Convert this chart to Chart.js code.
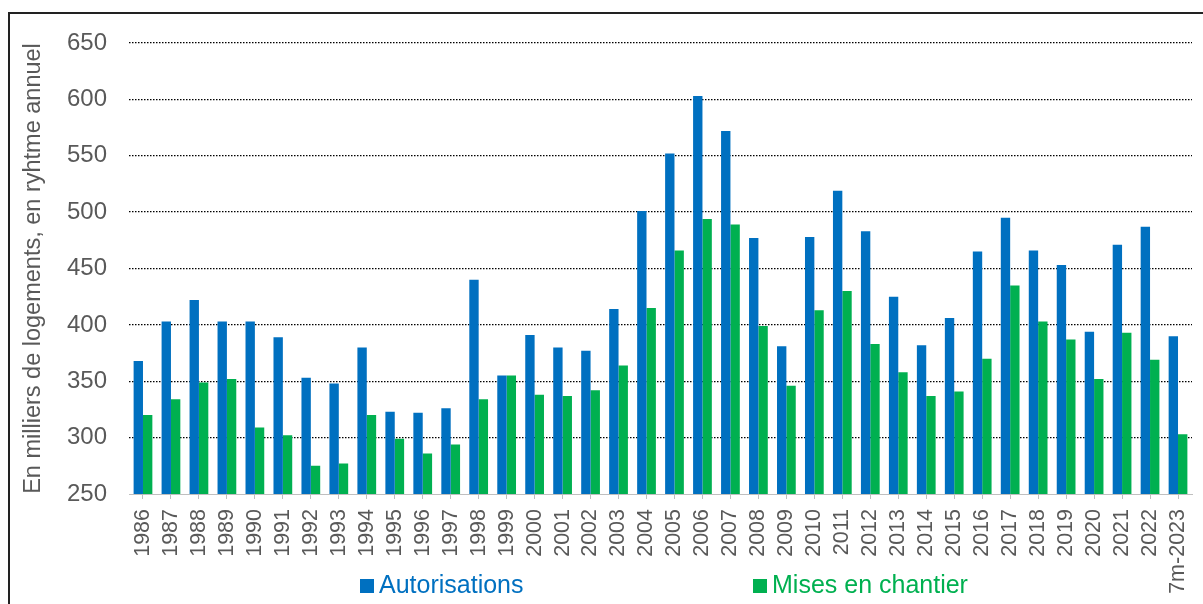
<!DOCTYPE html>
<html>
<head>
<meta charset="utf-8">
<script src="https://cdn.jsdelivr.net/npm/chart.js@4/dist/chart.umd.min.js"></script>
<style>
  body { margin: 0; background: #fff; }
  #wrap { width: 1203px; height: 604px; position: relative; }
</style>
</head>
<body>
<div id="wrap"><canvas id="chart1"></canvas></div>
<script>
// Logements autorisés / mis en chantier, en milliers, rythme annuel
const years = ['1986', '1987', '1988', '1989', '1990', '1991', '1992', '1993', '1994', '1995',
  '1996', '1997', '1998', '1999', '2000', '2001', '2002', '2003', '2004', '2005',
  '2006', '2007', '2008', '2009', '2010', '2011', '2012', '2013', '2014', '2015',
  '2016', '2017', '2018', '2019', '2020', '2021', '2022', '7m-2023'];
const autorisations = [368, 403, 422, 403, 403, 389, 353, 348, 380, 323,
  322, 326, 440, 355, 391, 380, 377, 414, 501, 552,
  603, 572, 477, 381, 478, 519, 483, 425, 382, 406,
  465, 495, 466, 453, 394, 471, 487, 390];
const misesEnChantier = [320, 334, 349, 352, 309, 302, 275, 277, 320, 299,
  286, 294, 334, 355, 338, 337, 342, 364, 415, 466,
  494, 489, 399, 346, 413, 430, 383, 358, 337, 341,
  370, 435, 403, 387, 352, 393, 369, 303];
const yTicks = [250, 300, 350, 400, 450, 500, 550, 600, 650];

const FONT = '"Liberation Sans", Arial, sans-serif';
const GREY = '#595959';

// white background + the frame round the chart
const framePlugin = {
  id: 'frame',
  beforeDraw(chart) {
    const c = chart.ctx;
    c.save();
    c.fillStyle = '#fff';
    c.fillRect(0, 0, chart.width, chart.height);
    c.strokeStyle = '#222';
    c.lineWidth = 2;
    c.strokeRect(9, 13, 1220, 640);
    c.restore();
  }
};

// legend below the axis, items far apart like the original
const legendPlugin = {
  id: 'bottomLegend',
  afterDraw(chart) {
    const c = chart.ctx;
    const xs = [360, 753];
    c.save();
    c.font = '25px ' + FONT;
    c.textBaseline = 'alphabetic';
    chart.data.datasets.forEach((ds, i) => {
      c.fillStyle = ds.backgroundColor;
      c.fillRect(xs[i], 579, 14, 14);
      c.fillText(ds.label, xs[i] + 19, 593);
    });
    c.restore();
  }
};

const ctx1 = document.getElementById('chart1').getContext('2d');
const chart1 = new Chart(ctx1, {
  type: 'bar',
  data: {
    labels: years,
    datasets: [{
      label: 'Autorisations',
      data: autorisations,
      backgroundColor: '#0070C0',
      borderWidth: 0
    }, {
      label: 'Mises en chantier',
      data: misesEnChantier,
      backgroundColor: '#00B050',
      borderWidth: 0
    }]
  },
  options: {
    responsive: true,
    maintainAspectRatio: false,
    animation: false,
    categoryPercentage: 0.67,
    barPercentage: 1.0,
    layout: { padding: { left: 15, right: 11, top: 43, bottom: 0 } },
    plugins: {
      legend: { display: false },
      tooltip: { enabled: false }
    },
    scales: {
      x: {
        grid: {
          offset: false,
          drawOnChartArea: false,
          drawTicks: true,
          tickLength: 5,
          color: '#BFBFBF'
        },
        border: { color: '#BFBFBF', width: 1 },
        ticks: {
          autoSkip: false,
          minRotation: 90,
          maxRotation: 90,
          padding: 10,
          color: GREY,
          font: { family: FONT, size: 21.5 }
        },
        afterFit(s) {
          s.height = 110;
          s.paddingLeft = 0;
          s.paddingRight = 0;
        }
      },
      y: {
        min: 250,
        max: 650,
        afterBuildTicks(s) { s.ticks = yTicks.map(v => ({ value: v })); },
        grid: {
          drawTicks: false,
          color: c => (c.tick && c.tick.value === 250) ? 'rgba(0,0,0,0)' : '#000',
          lineWidth: 1.3
        },
        border: { display: false, dash: [1.5, 1.5] },
        ticks: {
          padding: 22,
          color: GREY,
          font: { family: FONT, size: 24 }
        },
        title: {
          display: true,
          text: 'En milliers de logements, en ryhtme annuel',
          color: GREY,
          font: { family: FONT, size: 23.5 },
          padding: { top: 4, bottom: 0 }
        },
        afterFit(s) { s.width = 114; }
      }
    }
  },
  plugins: [framePlugin, legendPlugin]
});
</script>
</body>
</html>
